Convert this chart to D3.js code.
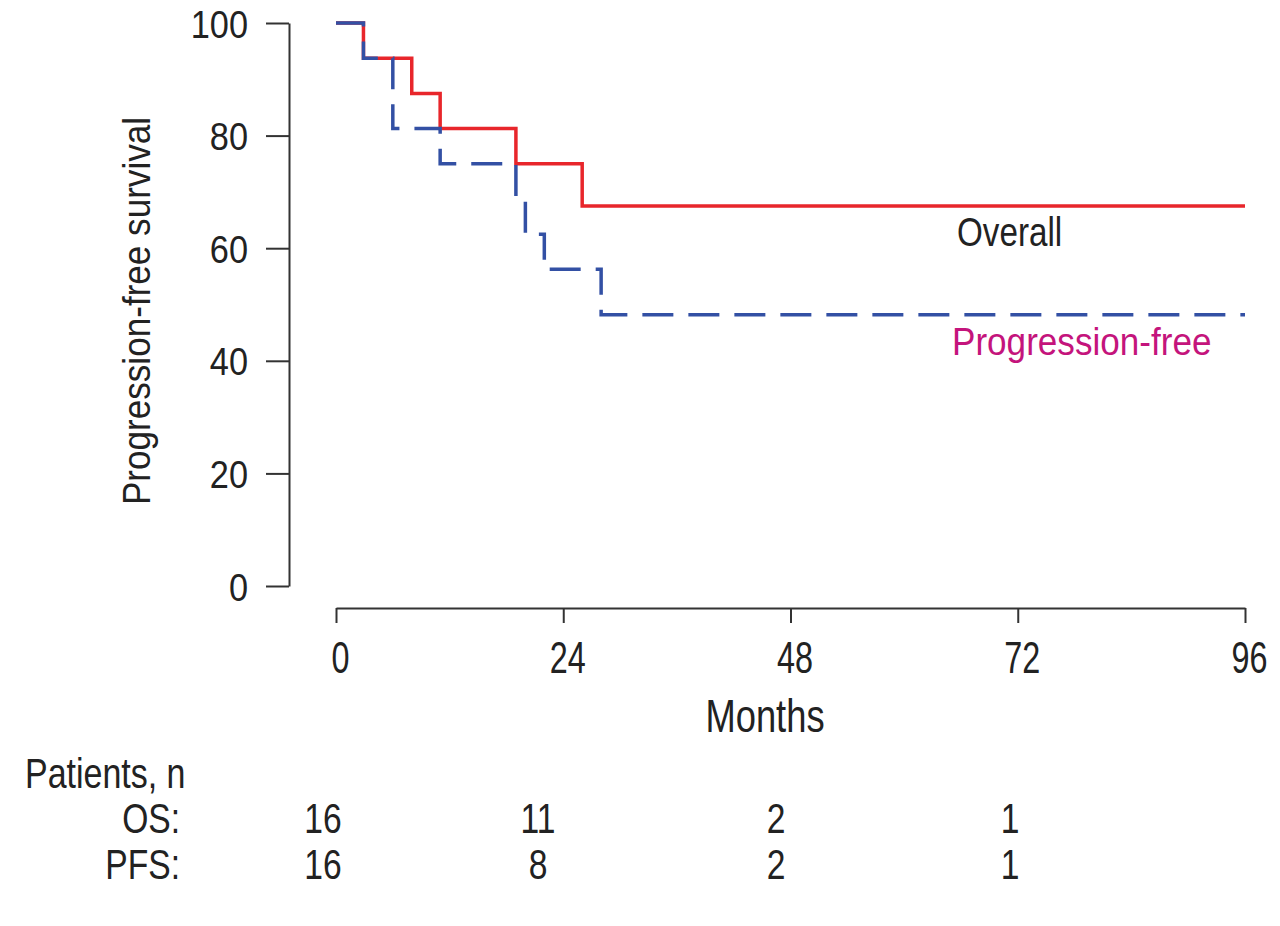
<!DOCTYPE html>
<html lang="en">
<head>
    <meta charset="UTF-8">
    <title>Survival</title>
    <script src="https://d3js.org/d3.v7.min.js"></script>
    <style>
        body { margin: 0; background: #fff; }
        svg text {
            font-family: "Liberation Sans", Arial, sans-serif;
            fill: #222;
        }
        .axis path, .axis line { stroke: #333; stroke-width: 2; }
    </style>
</head>
<body>
    <svg id="chart"></svg>

    <script>
        // Kaplan-Meier steps (months, % surviving)
        const osMonths = [0, 2.9, 8, 11, 19, 26, 96];
        const osValues = [100, 93.75, 87.5, 81.25, 75, 67.5, 67.5];
        const pfsMonths = [0, 2.9, 6, 11, 19, 20, 22, 28, 96];
        const pfsValues = [100, 93.75, 81.25, 75, 68.75, 62.5, 56.25, 48.2, 48.2];

        const xTicks = [0, 24, 48, 72, 96];
        const yTicks = [0, 20, 40, 60, 80, 100];

        // numbers at risk
        const riskMonths = [0, 24, 48, 72];
        const osAtRisk = [16, 11, 2, 1];
        const pfsAtRisk = [16, 8, 2, 1];

        const width = 1280, height = 926;

        const svg = d3.select("#chart")
            .attr("width", width)
            .attr("height", height);

        const x = d3.scaleLinear().domain([0, 96]).range([336, 1245]);
        const y = d3.scaleLinear().domain([0, 100]).range([586, 23]);
        // risk table columns do not line up exactly with the ticks
        const riskX = d3.scaleLinear().domain(riskMonths).range([323, 538, 776, 1010]);

        // the original uses a condensed face, so squeeze text horizontally
        function label(px, py, size, sx, txt, anchor) {
            return svg.append("text")
                .attr("transform", `translate(${px},${py}) scale(${sx},1)`)
                .attr("text-anchor", anchor || "start")
                .style("font-size", size + "px")
                .text(txt);
        }

        // y axis
        const yAxis = svg.append("g")
            .attr("class", "axis")
            .attr("transform", "translate(289,0)")
            .call(d3.axisLeft(y).tickValues(yTicks).tickSize(23).tickSizeOuter(0).tickPadding(0));
        yAxis.selectAll("text")
            .attr("x", 0)
            .attr("dy", "0.36em")
            .attr("transform", "translate(-41,0) scale(0.88,1)")
            .style("font-size", "39px");

        // x axis
        const xAxis = svg.append("g")
            .attr("class", "axis")
            .attr("transform", "translate(0,608)")
            .call(d3.axisBottom(x).tickValues(xTicks).tickSize(15).tickSizeOuter(0).tickPadding(0));
        xAxis.selectAll("text")
            .attr("y", 0)
            .attr("dy", 0)
            .attr("transform", "translate(4,65) scale(0.72,1)")
            .style("font-size", "45px");

        // axis titles
        svg.append("text")
            .attr("transform", "translate(150,311) rotate(-90) scale(0.9,1)")
            .attr("text-anchor", "middle")
            .style("font-size", "39px")
            .text("Progression-free survival");

        label(765, 732, 46, 0.79, "Months", "middle");

        const step = d3.line()
            .x(d => x(d[0]))
            .y(d => y(d[1]))
            .curve(d3.curveStepAfter);

        svg.append("path")
            .datum(d3.zip(osMonths, osValues))
            .attr("d", step)
            .attr("fill", "none")
            .attr("stroke", "#e8262b")
            .attr("stroke-width", 3.5);

        svg.append("path")
            .datum(d3.zip(pfsMonths, pfsValues))
            .attr("d", step)
            .attr("fill", "none")
            .attr("stroke", "#3350a4")
            .attr("stroke-width", 3.5)
            .attr("stroke-dasharray", "31,15");

        // curve labels
        label(957, 246, 40, 0.83, "Overall");
        label(952, 355, 39, 0.9, "Progression-free").style("fill", "#c4147c");

        // number at risk table
        label(25, 788, 43, 0.79, "Patients, n");

        const rows = [
            { name: "OS:", values: osAtRisk, y: 833 },
            { name: "PFS:", values: pfsAtRisk, y: 879 }
        ];

        rows.forEach(r => {
            label(180, r.y, 42, 0.8, r.name, "end");
            r.values.forEach((v, i) => {
                label(riskX(riskMonths[i]), r.y, 42, 0.8, v, "middle");
            });
        });
    </script>
</body>
</html>
